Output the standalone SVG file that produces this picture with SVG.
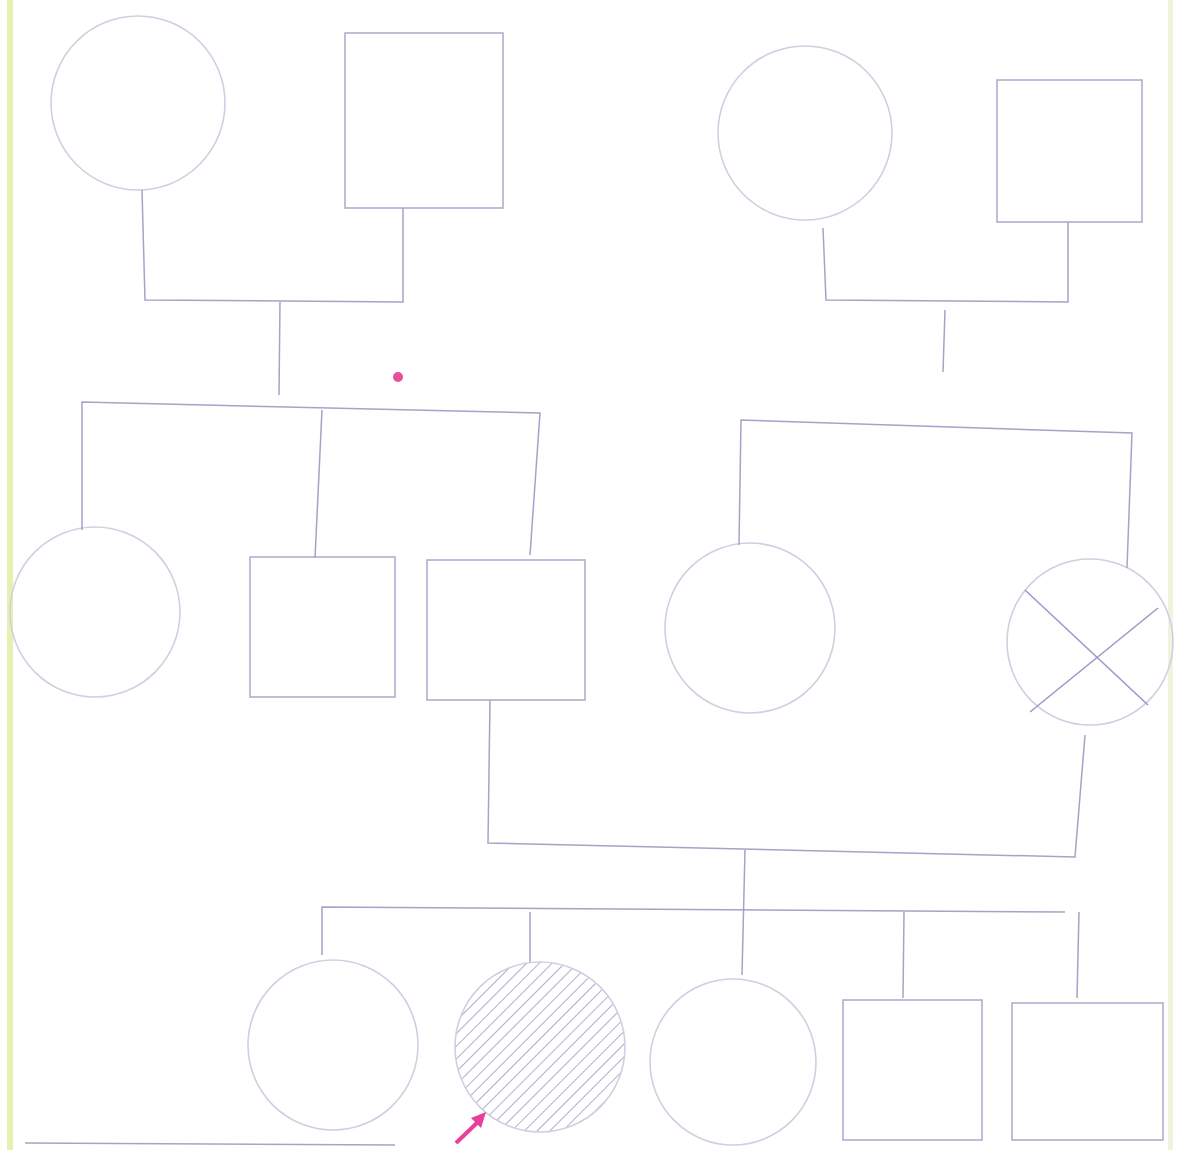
<svg xmlns="http://www.w3.org/2000/svg" width="1181" height="1150" viewBox="0 0 1181 1150">
<style>
.c{fill:none;stroke:#cfcfe2;stroke-width:1.6}
.s{fill:none;stroke:#aeaed0;stroke-width:1.6}
.l{fill:none;stroke:#a4a4c8;stroke-width:1.5}
.x{stroke:#9a9ac8;stroke-width:1.6}
</style>
<defs>
<pattern id="hatch" patternUnits="userSpaceOnUse" width="9" height="9" patternTransform="rotate(45)">
<line x1="0" y1="0" x2="0" y2="9" stroke="#a4a4ce" stroke-width="1.8"/>
</pattern>
<clipPath id="hc"><circle cx="540" cy="1047" r="85"/></clipPath>
</defs>
<rect width="1181" height="1150" fill="#ffffff"/>
<rect x="7" y="0" width="6" height="1150" fill="#e6f0b0"/>
<rect x="1168" y="0" width="5" height="1150" fill="#f0f4dc"/>
<g id="g1-mother"><circle class="c" cx="138" cy="103" r="87"/></g>
<g id="g1-father"><rect class="s" x="345" y="33" width="158" height="175"/></g>
<g id="g1r-mother"><circle class="c" cx="805" cy="133" r="87"/></g>
<g id="g1r-father"><rect class="s" x="997" y="80" width="145" height="142"/></g>
<g id="g2-daughter"><circle class="c" cx="95" cy="612" r="85"/></g>
<g id="g2-son1"><rect class="s" x="250" y="557" width="145" height="140"/></g>
<g id="g2-son2"><rect class="s" x="427" y="560" width="158" height="140"/></g>
<g id="g2r-daughter1"><circle class="c" cx="750" cy="628" r="85"/></g>
<g id="g2r-daughter2"><circle class="c" cx="1090" cy="642" r="83"/>
<line class="x" x1="1025" y1="590" x2="1148" y2="705"/>
<line class="x" x1="1030" y1="712" x2="1158" y2="608"/></g>
<g id="g3-d1"><circle class="c" cx="333" cy="1045" r="85"/></g>
<g id="g3-proband"><rect x="450" y="955" width="180" height="180" fill="url(#hatch)" clip-path="url(#hc)"/><circle class="c" cx="540" cy="1047" r="85"/></g>
<g id="g3-d3"><circle class="c" cx="733" cy="1062" r="83"/></g>
<g id="g3-s1"><rect class="s" x="843" y="1000" width="139" height="140"/></g>
<g id="g3-s2"><rect class="s" x="1012" y="1003" width="151" height="137"/></g>
<g id="connectors">
<polyline class="l" points="142,190 145,300 403,302 403,208"/>
<line class="l" x1="280" y1="302" x2="279" y2="395"/>
<polyline class="l" points="82,530 82,402 540,413 530,555"/>
<line class="l" x1="322" y1="410" x2="315" y2="558"/>
<polyline class="l" points="823,228 826,300 1068,302 1068,222"/>
<line class="l" x1="945" y1="310" x2="943" y2="372"/>
<polyline class="l" points="739,545 741,420 1132,433 1127,568"/>
<polyline class="l" points="490,700 488,843 1075,857 1085,735"/>
<line class="l" x1="745" y1="850" x2="742" y2="975"/>
<polyline class="l" points="322,955 322,907 1065,912"/>
<line class="l" x1="530" y1="912" x2="530" y2="962"/>
<line class="l" x1="904" y1="912" x2="903" y2="998"/>
<line class="l" x1="1079" y1="912" x2="1077" y2="998"/>
<line class="l" x1="25" y1="1143" x2="395" y2="1145"/>
</g>
<g id="marks">
<circle cx="398" cy="377" r="5" fill="#e8509a"/>
<line x1="456" y1="1143" x2="480" y2="1120" stroke="#e8409a" stroke-width="4"/>
<polygon points="486,1112 471,1118 481,1128" fill="#e8409a"/>
</g>
</svg>
